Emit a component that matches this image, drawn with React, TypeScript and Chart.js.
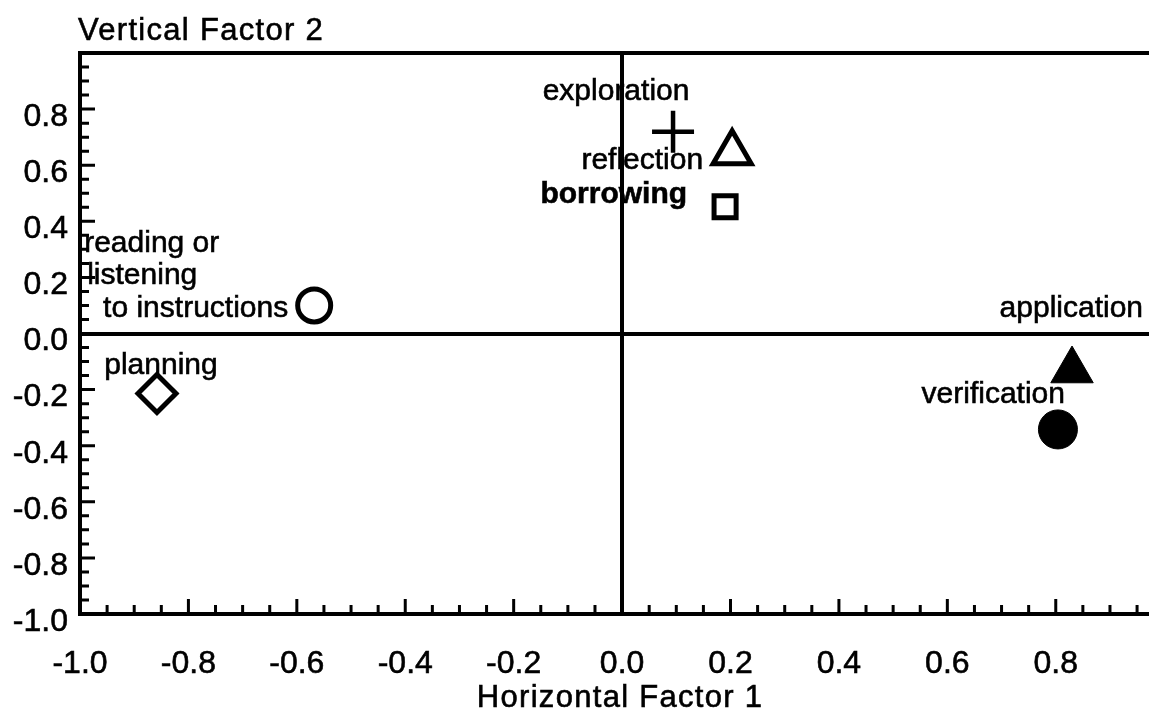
import React, { useEffect, useRef } from 'react';
import { Chart, registerables } from 'chart.js';

Chart.register(...registerables);

// ---------- data ----------
const categories = [
  'exploration',
  'reflection',
  'borrowing',
  'reading or listening to instructions',
  'planning',
  'application',
  'verification',
];
const factor1 = [0.094, 0.203, 0.19, -0.568, -0.858, 0.83, 0.804];
const factor2 = [0.719, 0.644, 0.452, 0.1, -0.214, -0.132, -0.342];
const xTickValues = [-1.0, -0.8, -0.6, -0.4, -0.2, 0.0, 0.2, 0.4, 0.6, 0.8];
const yTickValues = [0.8, 0.6, 0.4, 0.2, 0.0, -0.2, -0.4, -0.6, -0.8, -1.0];
const xAxisTitle = 'Horizontal Factor 1';
const yAxisTitle = 'Vertical Factor 2';

// ---------- styles ----------
const FONT = '"Liberation Sans", Arial, Helvetica, sans-serif';
const markerStyles = [
  { pointStyle: 'cross', radius: 21, bw: 4.5, fill: false },
  { pointStyle: 'triangle', radius: 22, bw: 5, fill: false },
  { pointStyle: 'rect', radius: 15.6, bw: 5, fill: false },
  { pointStyle: 'circle', radius: 16.5, bw: 5, fill: false },
  { pointStyle: 'rectRot', radius: 19, bw: 5, fill: false },
  { pointStyle: 'triangle', radius: 24.5, bw: 1, fill: true },
  { pointStyle: 'circle', radius: 19.5, bw: 1, fill: true },
];
// label lines, placed relative to the marker's pixel position
const labelLines = [
  [{ text: 'exploration', dx: -57, dy: -32, align: 'center' }],
  [{ text: 'reflection', dx: -29, dy: 16, align: 'right' }],
  [{ text: 'borrowing', dx: -38, dy: -4, align: 'right', bold: true }],
  [
    { text: 'reading or', dx: -230, dy: -53, align: 'left' },
    { text: 'listening', dx: -227, dy: -21, align: 'left' },
    { text: 'to instructions', dx: -26, dy: 12, align: 'right' },
  ],
  [{ text: 'planning', dx: 4, dy: -20, align: 'center' }],
  [{ text: 'application', dx: 71, dy: -54, align: 'right' }],
  [{ text: 'verification', dx: 7, dy: -26, align: 'right' }],
];

const drawText = (ctx: any, text: string, x: number, y: number) => {
  ctx.fillText(text, x, y);
  ctx.strokeText(text, x, y);
};

const labelsPlugin = {
  id: 'pointLabels',
  beforeDraw(chart: any) {
    const { ctx } = chart;
    const xs = chart.scales.x;
    const ys = chart.scales.y;
    ctx.save();
    ctx.fillStyle = '#000';
    ctx.strokeStyle = '#000';
    ctx.lineWidth = 0.6;
    ctx.textBaseline = 'alphabetic';
    labelLines.forEach((lines, i) => {
      const px = xs.getPixelForValue(factor1[i]);
      const py = ys.getPixelForValue(factor2[i]);
      lines.forEach((l: any) => {
        ctx.font = `${l.bold ? 'bold ' : ''}30px ${FONT}`;
        ctx.textAlign = l.align;
        drawText(ctx, l.text, px + l.dx, py + l.dy);
      });
    });
    ctx.restore();
  },
  afterDatasetsDraw(chart: any) {
    const { ctx, chartArea } = chart;
    const xs = chart.scales.x;
    const ys = chart.scales.y;
    ctx.save();
    ctx.strokeStyle = '#000';
    // top frame
    ctx.lineWidth = 4;
    ctx.beginPath();
    ctx.moveTo(chartArea.left - 2, chartArea.top);
    ctx.lineTo(chart.width, chartArea.top);
    ctx.stroke();
    // inward tick marks (minor every 0.05, major every 0.2)
    ctx.lineWidth = 3;
    ctx.beginPath();
    for (let k = -20; k <= 20; k++) {
      const v = k * 0.05;
      const len = k % 4 === 0 ? 15 : 9;
      if (v >= xs.min - 1e-9 && v <= xs.max + 1e-9) {
        const px = xs.getPixelForValue(v);
        ctx.moveTo(px, chartArea.bottom);
        ctx.lineTo(px, chartArea.bottom - len);
      }
      if (v >= ys.min - 1e-9 && v <= ys.max + 1e-9) {
        const py = ys.getPixelForValue(v);
        ctx.moveTo(chartArea.left, py);
        ctx.lineTo(chartArea.left + len, py);
      }
    }
    ctx.stroke();
    // axis titles
    ctx.fillStyle = '#000';
    ctx.lineWidth = 0.6;
    ctx.font = `31px ${FONT}`;
    try { ctx.letterSpacing = '1.3px'; } catch (e) {}
    ctx.textBaseline = 'alphabetic';
    ctx.textAlign = 'left';
    drawText(ctx, yAxisTitle, chartArea.left - 2, chartArea.top - 13);
    ctx.textAlign = 'center';
    drawText(ctx, xAxisTitle, xs.getPixelForValue(0) - 2, chart.height - 5);
    ctx.restore();
  },
};

const fmt = (list: number[]) => (value: number) => {
  const t = list.find((v) => Math.abs(v - value) < 1e-6);
  return t === undefined ? '' : t.toFixed(1);
};

export default function App() {
  const canvasRef = useRef<HTMLCanvasElement | null>(null);

  useEffect(() => {
    if (!canvasRef.current) return;
    const chart = new Chart(canvasRef.current, {
      type: 'scatter',
      data: {
        datasets: categories.map((name, i) => ({
          label: name,
          data: [{ x: factor1[i], y: factor2[i] }],
          pointStyle: markerStyles[i].pointStyle as any,
          pointRadius: markerStyles[i].radius,
          pointHoverRadius: markerStyles[i].radius,
          pointBorderWidth: markerStyles[i].bw,
          pointHoverBorderWidth: markerStyles[i].bw,
          pointBorderColor: '#000',
          pointBackgroundColor: markerStyles[i].fill ? '#000' : 'rgba(0,0,0,0)',
          showLine: false,
          clip: false as any,
        })),
      },
      options: {
        animation: false,
        responsive: true,
        maintainAspectRatio: false,
        layout: { autoPadding: false, padding: { top: 53, right: 0, left: 0, bottom: 0 } },
        plugins: {
          legend: { display: false },
          tooltip: { enabled: false },
          title: { display: false },
        },
        scales: {
          x: {
            type: 'linear',
            min: -1,
            max: 0.972,
            afterFit: (s: any) => { s.height = 98; s.paddingLeft = 0; s.paddingRight = 0; },
            border: { display: true, color: '#000', width: 4 },
            grid: {
              drawTicks: false,
              lineWidth: 4,
              color: (c: any) => (c.tick && Math.abs(c.tick.value) < 1e-9 ? '#000' : 'rgba(0,0,0,0)'),
            },
            ticks: {
              stepSize: 0.2,
              includeBounds: false,
              autoSkip: false,
              maxRotation: 0,
              padding: 31,
              color: '#000',
              textStrokeColor: '#000',
              textStrokeWidth: 0.6,
              font: { family: FONT, size: 32 },
              callback: fmt(xTickValues) as any,
            } as any,
          },
          y: {
            type: 'linear',
            min: -1,
            max: 1,
            afterFit: (s: any) => { s.width = 80; s.paddingTop = 0; s.paddingBottom = 0; },
            border: { display: true, color: '#000', width: 4 },
            grid: {
              drawTicks: false,
              lineWidth: 4,
              color: (c: any) => (c.tick && Math.abs(c.tick.value) < 1e-9 ? '#000' : 'rgba(0,0,0,0)'),
            },
            ticks: {
              stepSize: 0.2,
              autoSkip: false,
              padding: 12,
              labelOffset: 8,
              color: '#000',
              textStrokeColor: '#000',
              textStrokeWidth: 0.6,
              font: { family: FONT, size: 32 },
              callback: fmt(yTickValues) as any,
            } as any,
          },
        },
      },
      plugins: [labelsPlugin],
    });
    return () => chart.destroy();
  }, []);

  return (
    <div style={{ position: 'absolute', left: 0, top: 0, width: 1149, height: 712, background: '#fff' }}>
      <canvas ref={canvasRef} />
    </div>
  );
}
